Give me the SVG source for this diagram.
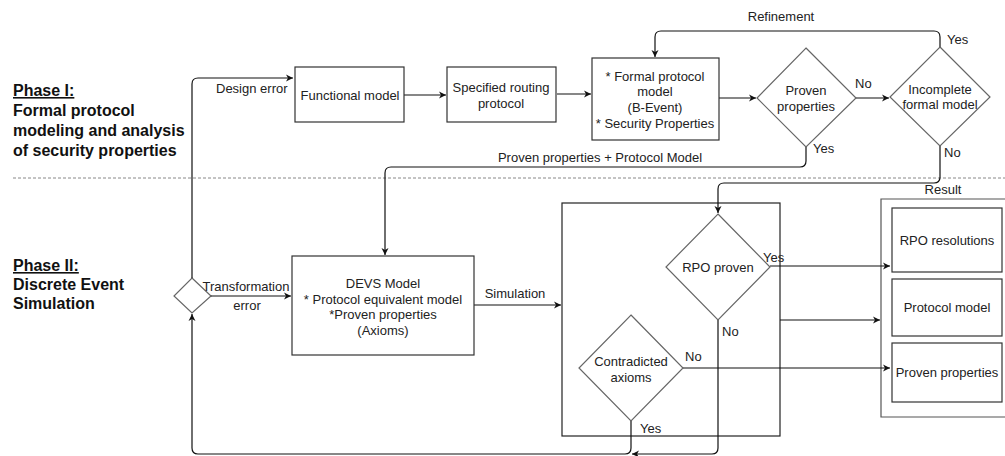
<svg xmlns="http://www.w3.org/2000/svg" width="1005" height="456" viewBox="0 0 1005 456">
  <style>
    text { font-family: "Liberation Sans", Arial, sans-serif; font-size: 13px; fill: #222; }
    .phase { font-size: 16px; font-weight: bold; fill: #111; }
    .box { fill: #fff; stroke: #333; stroke-width: 1.2; }
    .dia { fill: #fff; stroke: #666; stroke-width: 1.2; }
    .frame { fill: none; stroke: #222; stroke-width: 1.2; }
    .outer { fill: none; stroke: #555; stroke-width: 1.2; }
    .c { fill: none; stroke: #111; stroke-width: 1.2; }
    .ca { fill: none; stroke: #111; stroke-width: 1.2; marker-end: url(#arr); }
    .mid { text-anchor: middle; }
  </style>
  <defs>
    <marker id="arr" markerWidth="8" markerHeight="8" refX="7" refY="4" orient="auto" markerUnits="userSpaceOnUse">
      <path d="M0,0.5 L7,4 L0,7.5 L2,4 Z" fill="#111"/>
    </marker>
  </defs>

  <!-- phase titles -->
  <g id="phase1-title">
    <text class="phase" x="13" y="96" text-decoration="underline">Phase I:</text>
    <text class="phase" x="13" y="116">Formal protocol</text>
    <text class="phase" x="13" y="136">modeling and analysis</text>
    <text class="phase" x="13" y="156">of security properties</text>
  </g>
  <g id="phase2-title">
    <text class="phase" x="13" y="271" text-decoration="underline">Phase II:</text>
    <text class="phase" x="13" y="290">Discrete Event</text>
    <text class="phase" x="13" y="309">Simulation</text>
  </g>

  <!-- separator between phases -->
  <line x1="13" y1="178" x2="1005" y2="178" stroke="#888" stroke-width="1" stroke-dasharray="3,2"/>

  <!-- containers -->
  <g id="simulation-frame">
    <rect class="frame" x="562" y="203" width="218" height="233"/>
  </g>
  <g id="result-frame">
    <path class="outer" d="M1006,199 H881 V417 H1006"/>
    <text class="mid" x="943" y="194">Result</text>
  </g>

  <!-- junction diamond sits under its label -->
  <g id="error-junction">
    <path class="dia" d="M192,278 L211,296 L192,313 L174,296 Z"/>
  </g>

  <!-- connectors -->
  <g id="connectors">
    <path class="ca" d="M192,278 V84 Q192,78 198,78 H293"/>
    <path class="ca" d="M404,95 H446"/>
    <path class="ca" d="M557,94 H591"/>
    <path class="ca" d="M719,98 H756"/>
    <path class="ca" d="M856,98 H889"/>
    <path class="ca" d="M940,47 V37 Q940,31 934,31 H661 Q655,31 655,37 V57"/>
    <path class="ca" d="M806,147 V161 Q806,167 800,167 H391 Q385,167 385,173 V255"/>
    <path class="ca" d="M940,146 V177 Q940,183 934,183 H724 Q718,183 718,189 V213"/>
    <path class="ca" d="M211,296 H291"/>
    <path class="ca" d="M474,305 H561"/>
    <path class="ca" d="M770,266 H890"/>
    <path class="ca" d="M780,320 H880"/>
    <path class="ca" d="M683,368 H890"/>
    <path class="ca" d="M718,320 V448 Q718,454 712,454 H632"/>
    <path class="ca" d="M631,421 V448 Q631,454 625,454 H198 Q192,454 192,448 V314"/>

    <text x="216" y="93">Design error</text>
    <text class="mid" x="781" y="21">Refinement</text>
    <text x="855" y="88">No</text>
    <text x="947" y="44">Yes</text>
    <text x="813" y="153">Yes</text>
    <text class="mid" x="600" y="162">Proven properties + Protocol Model</text>
    <text x="944" y="157">No</text>
    <text class="mid" x="246" y="291">Transformation</text>
    <text class="mid" x="247" y="310">error</text>
    <text class="mid" x="515" y="298">Simulation</text>
    <text x="763" y="262">Yes</text>
    <text x="722" y="336">No</text>
    <text x="685" y="361">No</text>
    <text x="640" y="433">Yes</text>
  </g>

  <!-- phase I nodes -->
  <g id="functional-model">
    <rect class="box" x="295" y="67" width="109" height="55"/>
    <text class="mid" x="350" y="100">Functional model</text>
  </g>
  <g id="specified-routing-protocol">
    <rect class="box" x="447" y="67" width="109" height="55"/>
    <text class="mid" x="501" y="92">Specified routing</text>
    <text class="mid" x="501" y="108">protocol</text>
  </g>
  <g id="formal-protocol-model">
    <rect class="box" x="592" y="58" width="127" height="82"/>
    <text class="mid" x="655" y="81">* Formal protocol</text>
    <text class="mid" x="655" y="96">model</text>
    <text class="mid" x="655" y="112">(B-Event)</text>
    <text class="mid" x="655" y="128">* Security Properties</text>
  </g>
  <g id="proven-properties-check">
    <path class="dia" d="M806,48 L856,98 L806,147 L757,98 Z"/>
    <text class="mid" x="806" y="95">Proven</text>
    <text class="mid" x="806" y="111">properties</text>
  </g>
  <g id="incomplete-model-check">
    <path class="dia" d="M940,47 L990,97 L940,146 L890,97 Z"/>
    <text class="mid" x="940" y="94">Incomplete</text>
    <text class="mid" x="940" y="109">formal model</text>
  </g>

  <!-- phase II nodes -->
  <g id="devs-model">
    <rect class="box" x="292" y="256" width="182" height="99"/>
    <text class="mid" x="383" y="288">DEVS Model</text>
    <text class="mid" x="383" y="304">* Protocol equivalent model</text>
    <text class="mid" x="383" y="319">*Proven properties</text>
    <text class="mid" x="383" y="335">(Axioms)</text>
  </g>
  <g id="rpo-proven-check">
    <path class="dia" d="M718,214 L770,267 L718,320 L666,267 Z"/>
    <text class="mid" x="718" y="272">RPO proven</text>
  </g>
  <g id="contradicted-axioms-check">
    <path class="dia" d="M631,315 L683,368 L631,421 L579,368 Z"/>
    <text class="mid" x="631" y="366">Contradicted</text>
    <text class="mid" x="631" y="382">axioms</text>
  </g>
  <g id="rpo-resolutions">
    <rect class="box" x="892" y="208" width="110" height="64"/>
    <text class="mid" x="947" y="245">RPO resolutions</text>
  </g>
  <g id="protocol-model">
    <rect class="box" x="892" y="279" width="110" height="57"/>
    <text class="mid" x="947" y="312">Protocol model</text>
  </g>
  <g id="proven-properties">
    <rect class="box" x="892" y="343" width="110" height="59"/>
    <text class="mid" x="947" y="377">Proven properties</text>
  </g>
</svg>
